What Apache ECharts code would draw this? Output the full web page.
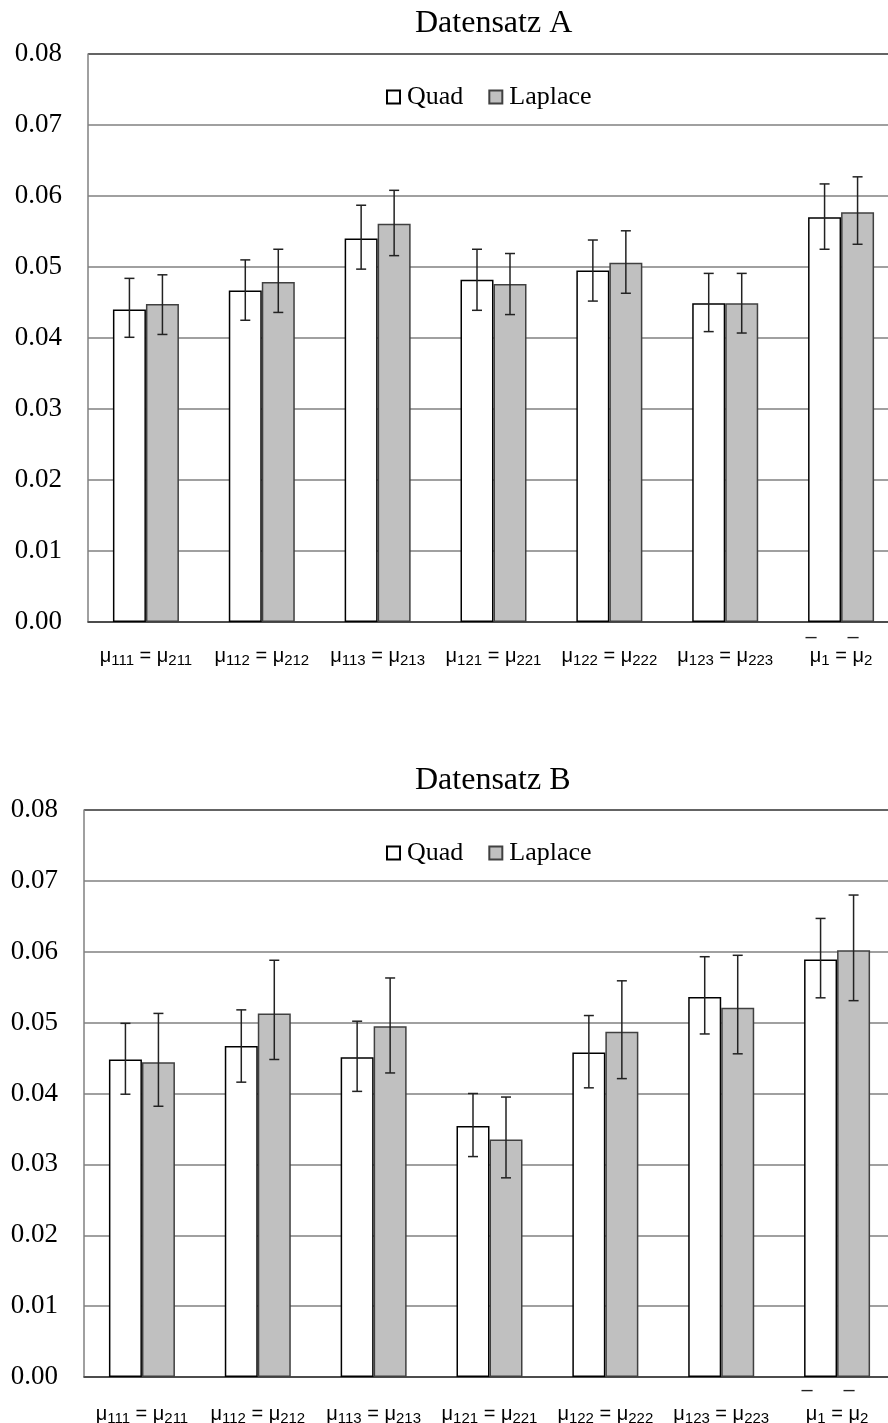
<!DOCTYPE html>
<html>
<head>
<meta charset="utf-8">
<script src="https://cdn.jsdelivr.net/npm/echarts@6/dist/echarts.min.js"></script>
<style>
html,body{margin:0;padding:0;background:#fff;}
#c{width:888px;height:1423px;}
</style>
</head>
<body>
<div id="c"></div>
<script>
// ---- data ----
const leftSubs  = ['111','112','113','121','122','123','1'];
const rightSubs = ['211','212','213','221','222','223','2'];
const overlined = [false,false,false,false,false,false,true];
const categories = leftSubs.map((s,i)=>'μ'+s+' = μ'+rightSubs[i]);
const yTicks = [0,0.01,0.02,0.03,0.04,0.05,0.06,0.07,0.08];
const seriesNames = ['Quad','Laplace'];
const titles = ['Datensatz A','Datensatz B'];

const quadA    = [0.0440,0.0467,0.0540,0.0482,0.0495,0.0449,0.0570];
const quadALo  = [0.0401,0.0425,0.0497,0.0439,0.0452,0.0409,0.0525];
const quadAHi  = [0.0484,0.0510,0.0587,0.0525,0.0538,0.0491,0.0617];
const lapA     = [0.0448,0.0479,0.0561,0.0476,0.0506,0.0449,0.0577];
const lapALo   = [0.0405,0.0436,0.0516,0.0433,0.0463,0.0407,0.0532];
const lapAHi   = [0.0489,0.0525,0.0608,0.0519,0.0551,0.0491,0.0627];

const quadB    = [0.0448,0.0467,0.0451,0.0354,0.0458,0.0536,0.0589];
const quadBLo  = [0.0399,0.0416,0.0403,0.0311,0.0408,0.0484,0.0535];
const quadBHi  = [0.0499,0.0518,0.0502,0.0400,0.0510,0.0593,0.0647];
const lapB     = [0.0444,0.0513,0.0495,0.0335,0.0487,0.0521,0.0602];
const lapBLo   = [0.0382,0.0448,0.0429,0.0281,0.0421,0.0456,0.0531];
const lapBHi   = [0.0513,0.0588,0.0563,0.0395,0.0559,0.0595,0.0680];

// ---- chart ----
const BAR_W = 33;
const SERIF = 'Liberation Serif, Times New Roman, serif';
const SANS = 'Liberation Sans, Arial, sans-serif';

const grids = [
  {left:88, top:54, width:811, height:568, outerBoundsMode:'none'},
  {left:84, top:810, width:811, height:567, outerBoundsMode:'none'}
];
const labelMargins = [8, 2];
const overlineHeights = [14, 23];

function labelFormatter(v, i){
  const top = overlined[i] ? '{ob|–}{og| }{ob|–}{op| }' : '{e| }';
  return top + '\n{m|μ}{s|' + leftSubs[i] + '}{m| = μ}{s|' + rightSubs[i] + '}';
}

const xAxes = grids.map((g,gi)=>({
  type:'category', gridIndex:gi, data:categories,
  axisTick:{show:false},
  axisLine:{lineStyle:{color:'#404040', width:1.5}},
  axisLabel:{
    interval:0, margin:labelMargins[gi], formatter:labelFormatter,
    rich:{
      e:{width:1, lineHeight:overlineHeights[gi], fontSize:10},
      ob:{width:12, align:'center', lineHeight:overlineHeights[gi], fontSize:20, fontFamily:SANS, color:'#222'},
      og:{width:30, lineHeight:overlineHeights[gi]},
      op:{width:18, lineHeight:overlineHeights[gi]},
      m:{fontSize:20, fontFamily:SANS, color:'#000', lineHeight:24},
      s:{fontSize:15, fontFamily:SANS, color:'#000', lineHeight:12, verticalAlign:'bottom'}
    }
  }
}));

const yAxes = grids.map((g,gi)=>({
  type:'value', gridIndex:gi, min:yTicks[0], max:yTicks[yTicks.length-1], interval:0.01,
  axisLine:{show:true, lineStyle:{color:'#808080', width:1.5}},
  axisTick:{show:false},
  axisLabel:{margin:26, fontFamily:SERIF, fontSize:27, color:'#000',
    formatter:(v)=>v.toFixed(2)},
  splitLine:{show:true, lineStyle:{width:1.5,
    color:['#404040','#808080','#808080','#808080','#808080','#808080','#808080','#808080','#303030']}}
}));

function errRender(offset){
  return function(params, api){
    const c = api.value(0);
    const x = api.coord([c, 0])[0] + offset;
    const yLo = api.coord([c, api.value(1)])[1];
    const yHi = api.coord([c, api.value(2)])[1];
    const hw = 5;
    const st = {stroke:'#222', lineWidth:1.5};
    return {type:'group', children:[
      {type:'line', shape:{x1:x,y1:yHi,x2:x,y2:yLo}, style:st},
      {type:'line', shape:{x1:x-hw,y1:yHi,x2:x+hw,y2:yHi}, style:st},
      {type:'line', shape:{x1:x-hw,y1:yLo,x2:x+hw,y2:yLo}, style:st}
    ]};
  };
}

const datasets = [
  {quad:quadA, quadLo:quadALo, quadHi:quadAHi, lap:lapA, lapLo:lapALo, lapHi:lapAHi},
  {quad:quadB, quadLo:quadBLo, quadHi:quadBHi, lap:lapB, lapLo:lapBLo, lapHi:lapBHi}
];

const series = [];
datasets.forEach((d,gi)=>{
  series.push({
    name:seriesNames[0], type:'bar', xAxisIndex:gi, yAxisIndex:gi, data:d.quad,
    barWidth:BAR_W, barGap:'0%',
    itemStyle:{color:'#ffffff', borderColor:'#000000', borderWidth:1.5},
    emphasis:{disabled:true}
  });
  series.push({
    name:seriesNames[1], type:'bar', xAxisIndex:gi, yAxisIndex:gi, data:d.lap,
    barWidth:BAR_W, barGap:'0%',
    itemStyle:{color:'#c0c0c0', borderColor:'#404040', borderWidth:1.5},
    emphasis:{disabled:true}
  });
  series.push({
    type:'custom', xAxisIndex:gi, yAxisIndex:gi, z:5,
    renderItem:errRender(-BAR_W/2),
    encode:{x:0, y:[1,2]},
    data:d.quad.map((v,i)=>[i, d.quadLo[i], d.quadHi[i]])
  });
  series.push({
    type:'custom', xAxisIndex:gi, yAxisIndex:gi, z:5,
    renderItem:errRender(BAR_W/2),
    encode:{x:0, y:[1,2]},
    data:d.lap.map((v,i)=>[i, d.lapLo[i], d.lapHi[i]])
  });
});

const legends = grids.map((g,gi)=>({
  data:seriesNames, left:386, top:g.top+30, padding:0,
  icon:'rect', itemWidth:13, itemHeight:13, itemGap:25,
  selectedMode:false,
  textStyle:{fontFamily:SERIF, fontSize:26, color:'#000', lineHeight:26, padding:[0,0,0,2]}
}));

const titleOpts = titles.map((t,gi)=>({
  text:t, left:415, top: gi===0 ? 8 : 765, padding:0,
  textStyle:{fontFamily:SERIF, fontSize:32, fontWeight:'normal', color:'#000'}
}));

const chart = echarts.init(document.getElementById('c'), null, {renderer:'canvas'});
chart.setOption({
  animation:false,
  backgroundColor:'#ffffff',
  title:titleOpts,
  legend:legends,
  grid:grids,
  xAxis:xAxes,
  yAxis:yAxes,
  series:series
});
</script>
</body>
</html>
